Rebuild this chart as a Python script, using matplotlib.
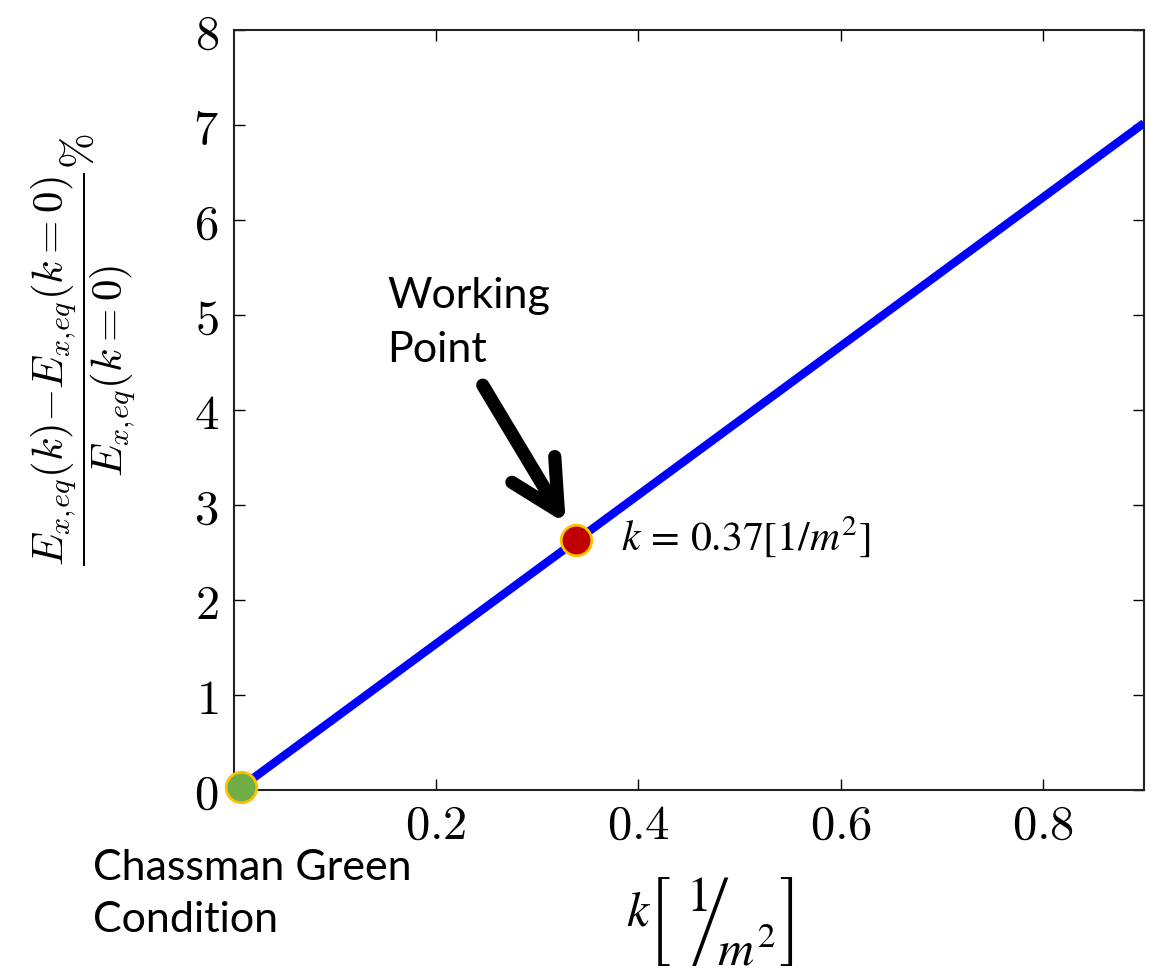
import numpy as np
import matplotlib
matplotlib.use('Agg')
import matplotlib.pyplot as plt

plt.rcParams['mathtext.fontset'] = 'cm'

W, H = 1153, 972

# values
k_line = [0.007, 0.9]
err_line = [0.03, 7.02]
cg_point = (0.007, 0.03)
work_point = (0.338, 2.63)
xticks = [0.2, 0.4, 0.6, 0.8]
yticks = [0, 1, 2, 3, 4, 5, 6, 7, 8]


def fx(x):
    return x / W


def fy(y):
    return 1 - y / H


fig = plt.figure(figsize=(W / 100, H / 100), dpi=100)
ax = fig.add_axes([fx(234), fy(790), (1144 - 234) / W, (790 - 30) / H])

ax.plot(k_line, err_line, color='#0000ff', lw=6, solid_capstyle='butt', zorder=3)
ax.plot(*cg_point, 'o', ms=22, mfc='#70ad47', mec='#ffc000', mew=2,
        clip_on=False, zorder=5)
ax.plot(*work_point, 'o', ms=22, mfc='#c00000', mec='#ffc000', mew=2, zorder=5)

ax.set_xlim(0, 0.9)
ax.set_ylim(0, 8)
ax.set_xticks(xticks)
ax.set_xticklabels([f'${v:g}$' for v in xticks])
ax.set_yticks(yticks)
ax.set_yticklabels([f'${v:g}$' for v in yticks])
ax.tick_params(direction='in', top=True, right=True, length=8, width=1,
               labelsize=35)
ax.tick_params(axis='x', pad=8)
ax.tick_params(axis='y', pad=11)
for s in ax.spines.values():
    s.set_linewidth(1.5)
    s.set_color('#222222')

# arrow to working point
ax.annotate('', xy=work_point, xytext=(-93, 155), textcoords='offset pixels',
            arrowprops=dict(arrowstyle='->, head_length=0.7, head_width=0.36',
                            mutation_scale=50, lw=9.5, color='black',
                            shrinkA=0, shrinkB=14, capstyle='round',
                            joinstyle='round'))

ax.annotate(r'$k\,=\,0.37\left[1/m^{2}\right]$',
            xy=work_point, xytext=(45, -11), textcoords='offset pixels',
            fontsize=30, math_fontfamily='stix', va='baseline', ha='left')

# sans notes
sans = ['Lato', 'DejaVu Sans']
fig.text(fx(387), fy(308), 'Working', fontsize=31, family=sans, va='baseline')
fig.text(fx(387), fy(362), 'Point', fontsize=31, family=sans, va='baseline')
fig.text(fx(93), fy(880), 'Chassman Green', fontsize=31, family=sans, va='baseline')
fig.text(fx(93), fy(932), 'Condition', fontsize=31, family=sans, va='baseline')

# y label
fig.text(fx(84), fy(350),
         r'$\dfrac{E_{x,\!eq}(k){-}E_{x,\!eq}(k{=}0)}{E_{x,\!eq}(k{=}0)}\%$',
         rotation=90, ha='center', va='center', fontsize=31)

# x label: k [ 1 / m^2 ], slash sized to the stacked 1 and m^2
fig.text(fx(710), fy(921),
         r'$k\left[\;\;\left/\!\!\!\!\!\!\!\genfrac{}{}{0}{0}{1\qquad\,}'
         r'{\enspace m^{2}}\right.\!\!\!\right]$',
         fontsize=36, math_fontfamily='stix', ha='center', va='center')

fig.savefig('out.png', dpi=100)
